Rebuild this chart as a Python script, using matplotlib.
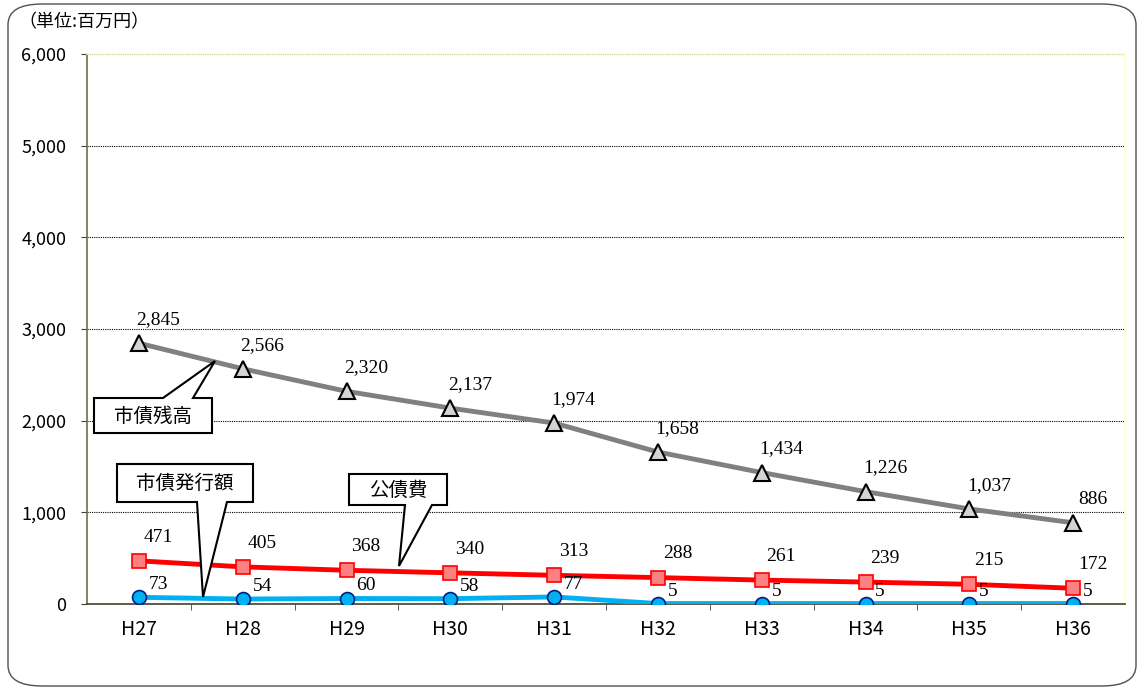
import matplotlib.pyplot as plt
from matplotlib.patches import FancyBboxPatch, Polygon

plt.rcParams['font.family'] = ['Noto Sans CJK JP', 'DejaVu Sans']

years = ['H27', 'H28', 'H29', 'H30', 'H31', 'H32', 'H33', 'H34', 'H35', 'H36']
balance = [2845, 2566, 2320, 2137, 1974, 1658, 1434, 1226, 1037, 886]   # 市債残高
debt_service = [471, 405, 368, 340, 313, 288, 261, 239, 215, 172]      # 公債費
issued = [73, 54, 60, 58, 77, 5, 5, 5, 5, 5]                           # 市債発行額

W, H = 1139, 688
fig = plt.figure(figsize=(W / 100, H / 100), dpi=100)
ax = fig.add_axes([87 / W, 1 - 604 / H, 1038 / W, 550 / H])

x = range(len(years))
ax.plot(x, balance, color='#808080', lw=3.5, marker='^', ms=11,
        mfc='#d4d4d4', mec='black', mew=1.5, zorder=3)
ax.plot(x, debt_service, color='#ff0000', lw=3.5, marker='s', ms=10,
        mfc='#ff8080', mec='#ff0000', mew=1.2, zorder=3)
ax.plot(x, issued, color='#00b0f0', lw=3.5, marker='o', ms=10,
        mfc='#00b0f0', mec='#002080', mew=1.2, zorder=4)

serif = ['Liberation Serif', 'DejaVu Serif']
for i, v in enumerate(balance):
    ax.annotate(f'{v:,}', (i, v), xytext=(14, 17), textcoords='offset points',
                ha='center', va='center', fontsize=14, family=serif)
for i, v in enumerate(debt_service):
    ax.annotate(f'{v:,}', (i, v), xytext=(14, 17), textcoords='offset points',
                ha='center', va='center', fontsize=14, family=serif)
for i, v in enumerate(issued):
    ax.annotate(f'{v:,}', (i, v), xytext=(7, 9), textcoords='offset points',
                ha='left', va='center', fontsize=14, family=serif)

ax.set_xlim(-0.5, len(years) - 0.5)
ax.set_ylim(0, 6000)
ax.set_yticks(range(0, 6001, 1000))
ax.set_yticklabels([f'{v:,}' for v in range(0, 6001, 1000)], fontsize=13)
ax.set_xticks(list(x))
ax.set_xticklabels(years, fontsize=14)
ax.set_xticks([i + 0.5 for i in range(len(years) - 1)], minor=True)
ax.tick_params(axis='x', which='major', length=0, pad=11)
ax.tick_params(axis='x', which='minor', length=4, direction='out', color='#404040')
ax.tick_params(axis='y', length=4, direction='out', pad=11, color='#404040')
ax.grid(axis='y', linestyle=(0, (1, 1)), color='black', lw=0.8)
ax.set_axisbelow(True)

ax.spines['left'].set_color('#707040')
ax.spines['bottom'].set_color('#404030')
ax.spines['top'].set_color('#ffffc8')
ax.spines['right'].set_color('#ffffc8')
for s in ax.spines.values():
    s.set_linewidth(1.2)

fig.text(18 / W, 1 - 22 / H, '（単位:百万円）', fontsize=13, va='center', ha='left')

# outer rounded frame
frame = FancyBboxPatch((8 / W, 2 / H), 1128 / W, 682 / H,
                       boxstyle='round,pad=0,rounding_size=0.03',
                       transform=fig.transFigure, fill=False, ec='#505050', lw=1.0)
fig.patches.append(frame)


def callout(points, label, center):
    pts = [(px / W, 1 - py / H) for px, py in points]
    fig.patches.append(Polygon(pts, closed=True, transform=fig.transFigure,
                               fc='white', ec='black', lw=1.5, zorder=5))
    fig.text(center[0] / W, 1 - center[1] / H, label, fontsize=14,
             ha='center', va='center', zorder=6)


# 市債残高 (box with pointer up to the line)
callout([(94, 398), (163, 398), (215, 361), (193, 398), (212, 398),
         (212, 433), (94, 433)], '市債残高', (153, 416))
# 市債発行額 (box with pointer down)
callout([(117, 464), (253, 464), (253, 502), (227, 502), (203, 597),
         (197, 502), (117, 502)], '市債発行額', (185, 483))
# 公債費
callout([(349, 474), (447, 474), (447, 505), (432, 505), (399, 566),
         (405, 505), (349, 505)], '公債費', (398, 490))

fig.savefig('out.png', dpi=100)
